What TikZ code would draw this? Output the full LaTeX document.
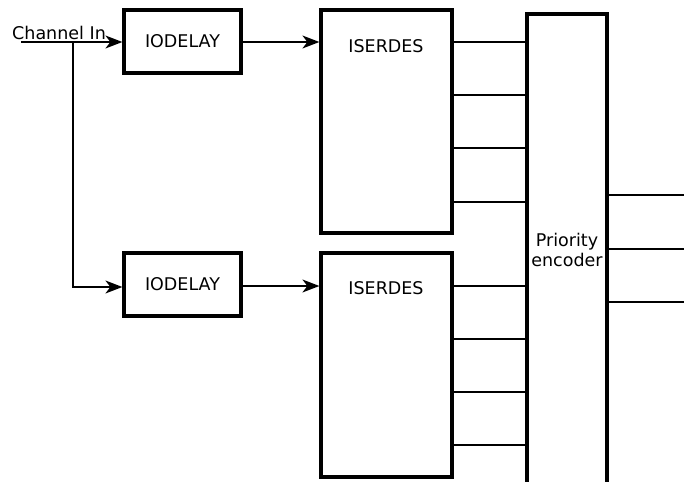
\documentclass[tikz,border=0pt]{standalone}
\usepackage{fontspec}
\setmainfont{DejaVu Sans}
\usetikzlibrary{arrows.meta}
\begin{document}
\begin{tikzpicture}[x=1pt,y=-1pt,
  font=\fontsize{17.5pt}{20pt}\selectfont,
  blk/.style={draw, line width=3.2pt, rectangle, inner sep=0pt},
  conn/.style={line width=2pt},
  arr/.style={line width=1.4pt, -{Stealth[length=17pt,width=13pt,inset=5pt]}},
  outl/.style={line width=1.4pt}]
\clip (0,0) rectangle (689,482);
\fill[white] (0,0) rectangle (689,482);
% blocks
\node[blk, minimum width=117pt, minimum height=63pt] (iod1) at (182.5,41.5) {IODELAY};
\node[blk, minimum width=117pt, minimum height=63pt] (iod2) at (182.5,284.5) {IODELAY};
\node[blk, minimum width=131pt, minimum height=223pt] (ise1) at (386.5,121.5) {};
\node[blk, minimum width=131pt, minimum height=224pt] (ise2) at (386.5,365) {};
\node (ise1t) at (386,46) {ISERDES};
\node (ise2t) at (386,288) {ISERDES};
\node[blk, minimum width=80pt, minimum height=472pt, align=center] (enc) at (567,250) {Priority\\encoder};
% input
\node[anchor=west, inner sep=0pt] (chin) at (12,33) {Channel In};
\coordinate (start) at (21,42);
\coordinate (branch) at (73,42);
\draw[arr] (start) -- (iod1.west |- start);
\draw[arr] (branch) |- (iod2.west |- 0,287);
\draw[arr] (iod1.east |- 0,42) -- (ise1.west |- 0,42);
\draw[arr] (iod2.east |- 0,286) -- (ise2.west |- 0,286);
% ISERDES to encoder
\foreach \y in {42,95,148,202,286,339,392,445}
  \draw[conn] (ise1.east |- 0,\y) -- (enc.west |- 0,\y);
% outputs
\foreach \y/\n in {195/o1,249/o2,302/o3}{
  \coordinate (\n) at (684,\y);
  \draw[outl] (enc.east |- \n) -- (\n);
}
\end{tikzpicture}
\end{document}
